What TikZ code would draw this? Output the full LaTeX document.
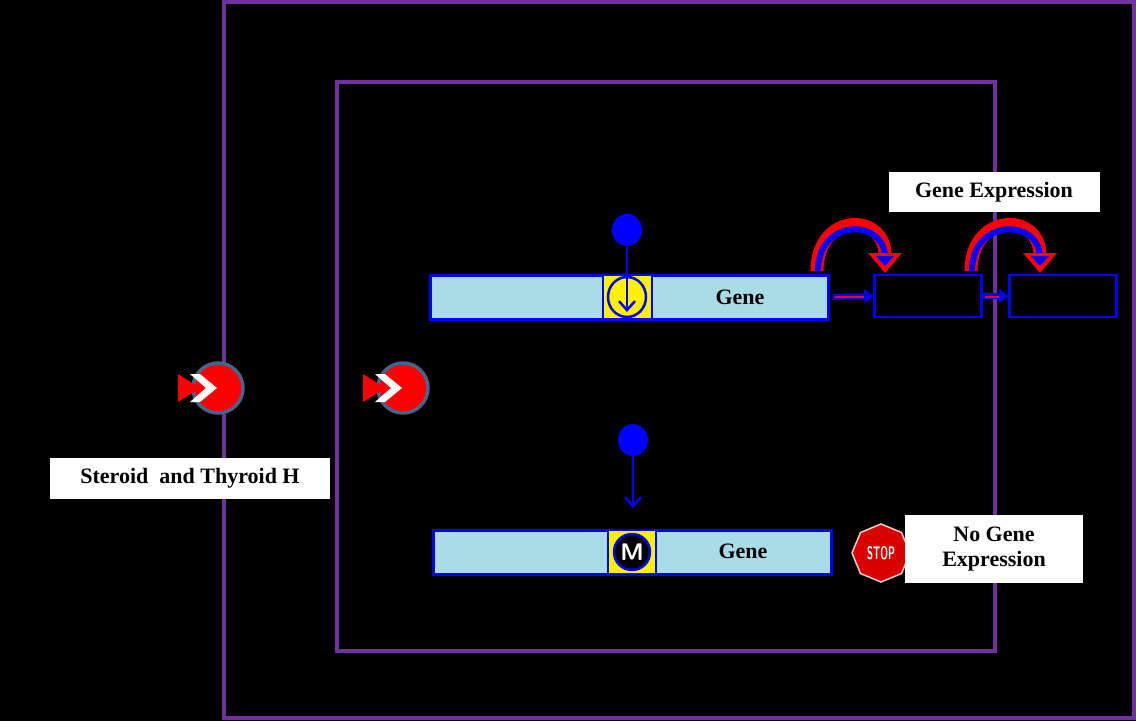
\documentclass[tikz,border=0pt]{standalone}
\usepackage{fontspec}
\setmainfont{Liberation Serif}
\usetikzlibrary{arrows.meta,shapes.geometric}
\definecolor{purp}{RGB}{112,48,160}
\definecolor{genefill}{RGB}{170,220,232}
\definecolor{memb}{RGB}{70,100,140}
\begin{document}
\begin{tikzpicture}[x=1pt,y=-1pt,
  lbl/.style={fill=white,font=\bfseries\fontsize{22}{25}\selectfont,align=center,inner sep=0pt},
  genebar/.style={draw=blue,line width=3pt,fill=genefill},
  ybox/.style={draw=blue,line width=2.5pt,fill=yellow},
  pbox/.style={draw=blue,line width=2.5pt,fill=black},
  dot/.style={ellipse,fill=blue,minimum width=30pt,minimum height=32pt,inner sep=0pt},
  hormone/.style={circle,fill=red,draw=memb,line width=3.5pt,minimum size=50pt,inner sep=0pt}]
\fill[black] (0,0) rectangle (1136,721);
\useasboundingbox (0,0) rectangle (1136,721);
\draw[purp,line width=3.5pt] (224,2) rectangle (1134,718);
\draw[purp,line width=3.5pt] (337,82) rectangle (995,651);
% gene 1
\draw[genebar] (430,275) rectangle (828,319);
\draw[ybox] (603,275) rectangle (652,319);
\node[draw=blue,line width=2.5pt,fill=yellow,ellipse,minimum width=38pt,minimum height=40pt,inner sep=0pt] (r1) at (627,297) {};
\node[font=\bfseries\fontsize{22}{25}\selectfont] (g1) at (740,297) {Gene};
\node[dot] (d1) at (627,230) {};
\draw[blue,line width=2.5pt,-{Straight Barb[length=9pt,width=16pt]}] (d1.south) -- (627,312);
% products
\node[pbox,minimum width=107pt,minimum height=42pt,inner sep=0pt] (p1) at (928,296) {};
\node[pbox,minimum width=107pt,minimum height=42pt,inner sep=0pt] (p2) at (1063,296) {};
\draw[blue,line width=6pt,-{Triangle[length=9pt,width=14pt]}] (833,297) -- (p1.west);
\draw[red,line width=1.5pt] (835,297) -- (864,297);
\draw[blue,line width=6pt,-{Triangle[length=9pt,width=14pt]}] (p1.east) -- (p2.west);
\draw[red,line width=1.5pt] (985,297) -- (999,297);
% curved arrows
\foreach \a/\b in {817/885, 971/1040}{
  \draw[red,line width=13pt] (\a,271) .. controls (\a,212) and (\b,212) .. (\b,255);
  \draw[blue,line width=6pt] (\a+1,271) .. controls (\a+1,218) and (\b-1,218) .. (\b,257);
  \fill[red] (\b-17,253) -- (\b+17,253) -- (\b,273) -- cycle;
  \fill[blue] (\b-9,256) -- (\b+9,256) -- (\b,266) -- cycle;
}
\node[lbl,minimum width=211pt,minimum height=40pt] (ge) at (994,192) {Gene Expression};
% gene 2
\draw[genebar] (433,530) rectangle (831,574);
\draw[ybox] (608,530) rectangle (656,574);
\node[circle,draw=blue,line width=2.5pt,fill=black,minimum size=36pt,inner sep=0pt,text=white,font=\sffamily\bfseries\fontsize{24}{26}\selectfont] (m) at (632,552) {M};
\node[font=\bfseries\fontsize{22}{25}\selectfont] (g2) at (743,551) {Gene};
\node[dot] (d2) at (633,440) {};
\draw[blue,line width=2.5pt,-{Straight Barb[length=9pt,width=16pt]}] (d2.south) -- (633,508);
% stop
\node[regular polygon,regular polygon sides=8,shape border rotate=22.5,fill=red!85!black,draw=white!80!red,line width=1.5pt,minimum size=58pt,inner sep=0pt,text=white,font=\sffamily\bfseries\fontsize{13}{13}\selectfont] (stop) at (881,553) {\scalebox{0.75}[1.4]{STOP}};
\node[lbl,minimum width=178pt,minimum height=68pt] (nge) at (994,549) {No Gene\\Expression};
% hormones
\foreach \x/\n in {218/h1,403/h2}{
  \node[hormone] (\n) at (\x,388) {};
  \fill[red] (\x-40,374) -- (\x-40,402) -- (\x-18,388) -- cycle;
  \fill[white] (\x-28,374) -- (\x-18,374) -- (\x-1,388) -- (\x-18,402) -- (\x-28,402) -- (\x-12,388) -- cycle;
}
\node[lbl,minimum width=280pt,minimum height=41pt] (st) at (190,478) {Steroid\ \ and Thyroid H};
\end{tikzpicture}
\end{document}
